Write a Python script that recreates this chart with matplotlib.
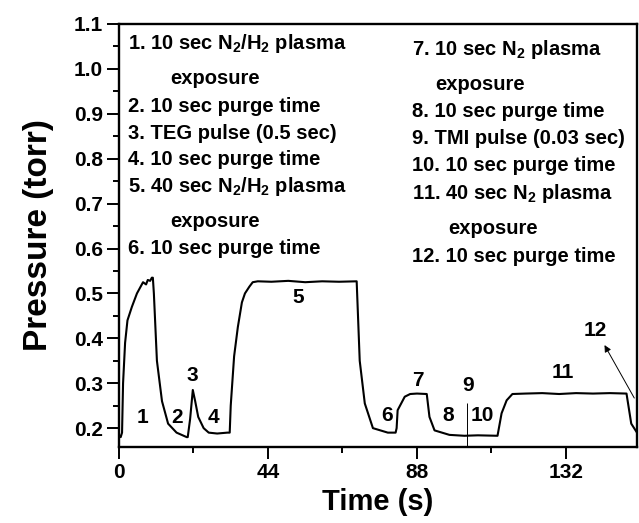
import matplotlib
matplotlib.use('Agg')
import matplotlib.pyplot as plt

plt.rcParams['font.family'] = ['Liberation Sans', 'DejaVu Sans']
plt.rcParams['font.weight'] = 'bold'
plt.rcParams['mathtext.fontset'] = 'custom'
plt.rcParams['mathtext.rm'] = 'Liberation Sans:bold'
plt.rcParams['mathtext.default'] = 'rm'

# pressure trace (time in s, pressure in torr)
time = [0.0, 0.5, 0.9, 1.2, 1.8, 2.5, 3.8, 5.3, 7.1, 8.0, 8.5, 9.2, 9.7, 10.0,
        10.3, 11.2, 12.7, 14.5, 17.0, 20.0, 20.3, 21.0, 21.8, 22.5, 23.4, 25.0,
        26.5, 29.0, 32.0, 32.7, 33.0, 34.0, 35.1, 36.3, 37.2, 38.5, 39.5, 41.0,
        45.0, 50.0, 55.0, 60.0, 65.0, 70.2, 71.1, 72.6, 75.0, 79.4, 81.7, 82.0,
        82.3, 84.4, 86.0, 88.0, 90.9, 91.7, 93.2, 97.6, 102.0, 106.0, 111.8,
        113.0, 114.5, 116.2, 120.0, 125.0, 130.0, 135.0, 140.0, 145.0, 149.9,
        151.3, 153.0]
pressure = [0.185, 0.18, 0.19, 0.30, 0.39, 0.44, 0.47, 0.50, 0.525, 0.52,
            0.53, 0.528, 0.535, 0.535, 0.50, 0.35, 0.26, 0.21, 0.19, 0.18,
            0.18, 0.22, 0.285, 0.26, 0.225, 0.20, 0.19, 0.188, 0.19, 0.19,
            0.25, 0.36, 0.425, 0.48, 0.50, 0.515, 0.525, 0.527, 0.526, 0.528,
            0.525, 0.527, 0.526, 0.527, 0.35, 0.255, 0.20, 0.19, 0.19, 0.20,
            0.24, 0.27, 0.276, 0.277, 0.276, 0.225, 0.195, 0.185, 0.183,
            0.184, 0.183, 0.233, 0.262, 0.276, 0.277, 0.278, 0.276, 0.278,
            0.277, 0.278, 0.277, 0.21, 0.19]

# step numbers written on the trace
step_labels = ['1', '2', '3', '4', '5', '6', '7', '8', '9', '10', '11', '12']
step_t = [6.8, 17.1, 21.8, 28.0, 52.8, 79.1, 88.2, 97.3, 103.0, 107.4, 131.0, 140.7]
step_p = [0.2245, 0.2245, 0.318, 0.2245, 0.49, 0.229, 0.307, 0.229, 0.296,
          0.229, 0.325, 0.418]

tmi_t = 102.7
tmi_top = 0.255
arrow_tail = (152.2, 0.267)
arrow_head = (143.4, 0.385)

left_notes = ['1. 10 sec N$_2$/H$_2$ plasma', 'exposure', '2. 10 sec purge time',
              '3. TEG pulse (0.5 sec)', '4. 10 sec purge time',
              '5. 40 sec N$_2$/H$_2$ plasma', 'exposure', '6. 10 sec purge time']
right_notes = ['7. 10 sec N$_2$ plasma', 'exposure', '8. 10 sec purge time',
               '9. TMI pulse (0.03 sec)', '10. 10 sec purge time',
               '11. 40 sec N$_2$ plasma', 'exposure', '12. 10 sec purge time']

W, H = 639, 523
fig = plt.figure(figsize=(W / 100, H / 100), dpi=100)
ax = fig.add_axes([119 / W, 1 - 447 / H, (637 - 119) / W, (447 - 24) / H])

ax.plot(time, pressure, color='black', lw=1.5)
ax.vlines(tmi_t, 0.158, tmi_top, color='black', lw=0.7)
ax.annotate('', xy=arrow_head, xytext=arrow_tail,
            arrowprops=dict(arrowstyle='-|>', color='black', lw=0.7,
                            mutation_scale=10, shrinkA=0, shrinkB=0))

for lab, t, p in zip(step_labels, step_t, step_p):
    ax.text(t, p, lab, ha='center', va='center', fontsize=15, fontweight='bold')

ax.set_xlim(0, 153)
ax.set_ylim(0.158, 1.1)
ax.set_xticks([0, 44, 88, 132])
ax.set_xticks([22, 66, 110], minor=True)
ax.set_yticks([0.2, 0.3, 0.4, 0.5, 0.6, 0.7, 0.8, 0.9, 1.0, 1.1])
ax.set_yticks([0.25, 0.35, 0.45, 0.55, 0.65, 0.75, 0.85, 0.95, 1.05], minor=True)
ax.set_yticklabels(['0.2', '0.3', '0.4', '0.5', '0.6', '0.7', '0.8', '0.9', '1.0', '1.1'])
ax.tick_params(which='both', direction='out', width=1.4, labelsize=15, pad=3)
ax.tick_params(which='major', length=8.5)
ax.tick_params(which='minor', length=4)
for s in ax.spines.values():
    s.set_linewidth(1.7)

ax.set_xlabel('Time (s)', fontsize=21, fontweight='bold', labelpad=4)
ax.set_ylabel('Pressure (torr)', fontsize=24, fontweight='bold', labelpad=14)

# note blocks: (x, y) of each line in pixels of the reference
left_x = [128, 170, 128, 128, 128, 128, 170, 128]
left_y = [42, 77, 105, 132, 158, 185, 220, 247]
right_x = [412, 435, 412, 412, 412, 412, 448, 412]
right_y = [48, 83, 110, 137, 164, 192, 227, 255]
for txt, x, y in zip(left_notes + right_notes, left_x + right_x, left_y + right_y):
    fig.text(x / W, 1 - (y + 7) / H, txt, ha='left', va='baseline',
             fontsize=14.5, fontweight='bold')

fig.savefig('out.png', dpi=100)
